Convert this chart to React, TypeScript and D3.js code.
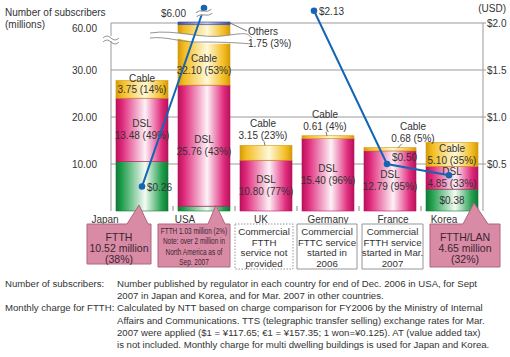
import React from "react";
import * as d3 from "d3";

// ---------- data ----------
const countries = ["Japan", "USA", "UK", "Germany", "France", "Korea"];
const ftth = [10.52, 1.03, 0, 0, 0, 4.65];
const dsl = [13.48, 25.76, 10.8, 15.4, 12.79, 4.85];
const cable = [3.75, 32.1, 3.15, 0.61, 0.68, 5.1];
const others = [0, 1.75, 0, 0, 0, 0];
const dslShare = [49, 43, 77, 96, 95, 33];
const cableShare = [14, 53, 23, 4, 5, 35];
const othersShare = [0, 3, 0, 0, 0, 0];
const ftthCharge: (number | null)[] = [0.26, 6.0, null, 2.13, 0.5, 0.38];
const leftTicks = [10, 20, 30, 60];
const rightTicks = [0.5, 1.0, 1.5, 2.0];
const calloutLines = [
  ["FTTH", "10.52 million", "(38%)"],
  ["FTTH 1.03 million (2%)", "Note: over 2 million in", "North America as of", "Sep. 2007"],
  ["Commercial", "FTTH", "service not", "provided"],
  ["Commercial", "FTTC service", "started in", "2006"],
  ["Commercial", "FTTH service", "started in Mar.", "2007"],
  ["FTTH/LAN", "4.65 million", "(32%)"],
];
const footLabels = ["Number of subscribers:", "", "Monthly charge for FTTH:", "", "", ""];
const footTexts = [
  "Number published by regulator in each country for end of Dec. 2006 in USA, for Sept",
  "2007 in Japan and Korea, and for Mar. 2007 in other countries.",
  "Calculated by NTT based on charge comparison for FY2006 by the Ministry of Internal",
  "Affairs and Communications. TTS (telegraphic transfer selling) exchange rates for Mar.",
  "2007 were applied ($1 = \u00a5117.65;  \u20ac1 = \u00a5157.35; 1 won=\u00a50.125).  AT (value added tax)",
  "is not included. Monthly charge for multi dwelling buildings is used for Japan and Korea.",
];

const keys = ["ftth", "dsl", "cable", "others"] as const;
const colors: Record<string, { edge: string; dark: string; mid: string }> = {
  ftth: { edge: "#23a04f", dark: "#0f7a35", mid: "#f3fbf4" },
  dsl: { edge: "#e02a7c", dark: "#b8125c", mid: "#fdf1f7" },
  cable: { edge: "#f3bd22", dark: "#d49a0a", mid: "#fff9da" },
  others: { edge: "#5c6cb8", dark: "#3d4b96", mid: "#c4cbee" },
};

const FONT = "Liberation Sans, Arial, Helvetica, sans-serif";
const TXT = "#333";

export default function App() {
  const left = 111, right = 483, top = 23, base = 211;
  const x = d3.scaleBand<string>().domain(countries).range([left, right]).paddingInner(10 / 62).paddingOuter(5 / 62);
  const y = d3.scaleLinear().domain([0, 30, 60]).range([base, 70, top]);
  const pxPerDollar = (base - top) / 2;
  const yP = d3.scaleLinear().domain([0, 2.13, 6]).range([base, base - 2.13 * pxPerDollar, 8]);
  const bw = x.bandwidth();
  const cx = (c: string) => (x(c) as number) + bw / 2;

  const table = countries.map((c, i) => ({ country: c, ftth: ftth[i], dsl: dsl[i], cable: cable[i], others: others[i] }));
  const series = d3.stack<any>().keys(keys as any)(table);

  const pointDx: Record<string, number> = { Germany: -14, Korea: -3, France: -3 };
  const px = (i: number) => cx(countries[i]) + (pointDx[countries[i]] || 0);
  const line = d3
    .line<number | null>()
    .defined((d) => d != null)
    .x((_, i) => px(i))
    .y((d) => yP(d as number));

  const labelsFor = (i: number) => {
    const c = countries[i];
    const out: React.ReactNode[] = [];
    const ctr = cx(c);
    const seg = (k: number) => series[k][i];
    {
      const [a, b] = seg(1);
      const m = (y(a) + y(b)) / 2;
      out.push(
        <g key="dsl">
          <text x={ctr} y={m - 3} textAnchor="middle">DSL</text>
          <text x={ctr} y={m + 9} textAnchor="middle">{`${dsl[i].toFixed(2)} (${dslShare[i]}%)`}</text>
        </g>
      );
    }
    {
      const [a, b] = seg(2);
      const ya = y(a), yb = y(b);
      const val = `${cable[i].toFixed(2)} (${cableShare[i]}%)`;
      if (c === "USA") {
        const m = (ya + 45) / 2;
        out.push(
          <g key="cab">
            <text x={ctr} y={m - 3} textAnchor="middle">Cable</text>
            <text x={ctr} y={m + 9} textAnchor="middle">{val}</text>
          </g>
        );
      } else if (ya - yb > 22) {
        const m = (ya + yb) / 2;
        out.push(
          <g key="cab">
            <text x={ctr} y={m - 2} textAnchor="middle">Cable</text>
            <text x={ctr} y={m + 10} textAnchor="middle">{val}</text>
          </g>
        );
      } else if (c === "Japan") {
        out.push(
          <g key="cab">
            <text x={ctr} y={yb + 1} textAnchor="middle">Cable</text>
            <text x={ctr} y={yb + 12} textAnchor="middle">{val}</text>
          </g>
        );
      } else {
        const dx = c === "France" ? 23 : -3;
        out.push(
          <g key="cab">
            <text x={ctr + dx} y={yb - 18} textAnchor="middle">Cable</text>
            <text x={ctr + dx} y={yb - 6} textAnchor="middle">{val}</text>
            <line x1={c === "France" ? ctr + 12 : ctr - 2} y1={yb - 4} x2={c === "France" ? ctr + 8 : ctr - 1} y2={yb} stroke="#555" strokeWidth={0.8} />
          </g>
        );
      }
    }
    if (others[i] > 0) {
      const [, b] = seg(3);
      const rx = (x(c) as number) + bw;
      out.push(
        <g key="oth">
          <line x1={rx} y1={y(b) + 1} x2={rx + 17} y2={y(b) + 9} stroke="#555" strokeWidth={0.8} />
          <text x={rx + 18} y={y(b) + 13}>Others</text>
          <text x={rx + 18} y={y(b) + 25}>{`${others[i].toFixed(2)} (${othersShare[i]}%)`}</text>
        </g>
      );
    }
    return out;
  };

  const catDx: Record<string, number> = { Japan: -37, USA: -19, UK: -5, Germany: 0, France: 3, Korea: -8 };
  const box: Record<string, { l: number; r: number; b: number; kind: string; tip?: [number, number, number, number] }> = {
    Japan: { l: -55, r: 9, b: 264, kind: "pink", tip: [-15, 6, -3, 205] },
    USA: { l: -46, r: 26, b: 267, kind: "pink", tip: [4, 21, 12, 205] },
    UK: { l: -31, r: 27, b: 269, kind: "dot" },
    Germany: { l: -31, r: 29, b: 269, kind: "solid" },
    France: { l: -28, r: 33, b: 269, kind: "solid" },
    Korea: { l: -22, r: 48, b: 267, kind: "pink", tip: [11, 36, 22, 203] },
  };
  const boxTop = 224;

  const wave = (x0: number, x1: number, y0: number, y1: number) => {
    const w = x1 - x0;
    return `M${x0},${y0} C${x0 + w * 0.25},${y0 - 4} ${x0 + w * 0.5},${(y0 + y1) / 2 + 4} ${x0 + w * 0.75},${(y0 + y1) / 2} S${x1 - w * 0.05},${y1 - 3} ${x1},${y1}`;
  };

  return (
    <svg width={510} height={357} style={{ position: "absolute", left: 0, top: 0, background: "#fff" }} fontFamily={FONT} fontSize={10} fill={TXT}>
      <defs>
        {keys.map((k) => (
          <linearGradient id={`g-${k}`} key={k} x1="0" x2="1" y1="0" y2="0">
            <stop offset="0" stopColor={colors[k].dark} />
            <stop offset="0.12" stopColor={colors[k].edge} />
            <stop offset="0.56" stopColor={colors[k].mid} />
            <stop offset="0.88" stopColor={colors[k].edge} />
            <stop offset="1" stopColor={colors[k].dark} />
          </linearGradient>
        ))}
      </defs>

      <text x={5} y={16}>Number of subscribers</text>
      <text x={5} y={28}>(millions)</text>
      <text x={506} y={12} textAnchor="end">(USD)</text>

      {leftTicks.map((t) => (
        <g key={t}>
          <line x1={left} x2={right} y1={y(t)} y2={y(t)} stroke="#9a9a9a" strokeWidth={1} />
          <text x={97} y={y(t) + 4 + (t === 60 ? 5 : 0)} textAnchor="end">{t.toFixed(2)}</text>
        </g>
      ))}
      <line x1={left} x2={left} y1={top} y2={base} stroke="#9a9a9a" />
      <line x1={right} x2={right} y1={top} y2={base} stroke="#9a9a9a" />
      {rightTicks.map((t) => (
        <g key={t}>
          <line x1={right} x2={right + 3} y1={yP(t)} y2={yP(t)} stroke="#9a9a9a" />
          <text x={right + 4} y={yP(t) + 4}>{`$${t.toFixed(1)}`}</text>
        </g>
      ))}
      <rect x={104} y={36} width={14} height={5} fill="#fff" />
      <path d="M103,38 q4,-4 8,0 t8,0" fill="none" stroke="#888" strokeWidth={0.9} />
      <path d="M103,42 q4,-4 8,0 t8,0" fill="none" stroke="#888" strokeWidth={0.9} />
      {countries.slice(1).map((c) => (
        <line key={c} x1={(x(c) as number) - 5} x2={(x(c) as number) - 5} y1={base - 5} y2={base} stroke="#888" />
      ))}

      {series.map((s) => (
        <g key={s.key}>
          {s.map((d, i) =>
            d[1] - d[0] > 0 ? (
              <rect
                key={i}
                x={x(countries[i])}
                width={bw}
                y={y(d[1])}
                height={y(d[0]) - y(d[1])}
                fill={`url(#g-${s.key})`}
                stroke={colors[s.key].dark}
                strokeWidth={0.6}
              />
            ) : null
          )}
        </g>
      ))}

      <path d={`${wave(150, 252, 33, 38)} L252,44 C230,42 215,46 195,42 S165,36 150,38 Z`} fill="#fff" stroke="none" />
      <path d={wave(150, 252, 33, 38)} fill="none" stroke="#888" strokeWidth={0.9} />
      <path d="M150,38 C165,36 180,42 195,42 S230,42 252,44" fill="none" stroke="#888" strokeWidth={0.9} />

      {countries.map((_, i) => (
        <g key={i}>{labelsFor(i)}</g>
      ))}

      <path d={line(ftthCharge) || ""} fill="none" stroke="#1565b4" strokeWidth={2} />
      {ftthCharge.map((v, i) => (v == null ? null : <circle key={i} cx={px(i)} cy={yP(v)} r={3.3} fill="#1565b4" />))}
      <g transform={`translate(${(px(0) + px(1)) / 2 + 31},13) rotate(-12)`}>
        <rect x={-7} y={-2} width={14} height={3.5} fill="#fff" />
        <path d="M-8,-2 q4,-2 8,0 t8,0" fill="none" stroke="#888" strokeWidth={0.9} />
        <path d="M-8,2 q4,-2 8,0 t8,0" fill="none" stroke="#888" strokeWidth={0.9} />
      </g>
      {ftthCharge.map((v, i) => {
        if (v == null) return null;
        const c = countries[i];
        const X = px(i), Y = yP(v);
        const s = `$${v.toFixed(2)}`;
        if (c === "USA") return <text key={i} x={X - 18} y={Y + 9} textAnchor="end">{s}</text>;
        if (c === "Korea") {
          const [a, b] = series[0][i];
          return <text key={i} x={cx(c)} y={(y(a) + y(b)) / 2 + 4} textAnchor="middle">{s}</text>;
        }
        if (c === "France") return <text key={i} x={X + 5} y={Y - 3}>{s}</text>;
        return <text key={i} x={X + 5} y={Y + 4}>{s}</text>;
      })}

      {countries.map((c) => (
        <text key={c} x={cx(c) + catDx[c]} y={223} textAnchor="middle">{c}</text>
      ))}

      {countries.map((c, i) => {
        const b = box[c];
        const ctr = cx(c);
        const l = ctr + b.l, r = ctr + b.r;
        const mid = (l + r) / 2;
        const lines = calloutLines[i];
        const pink = b.kind === "pink";
        const usa = c === "USA";
        const lh = usa ? 10.5 : pink ? 11 : 10.6;
        const y0 = usa ? 233.5 : pink ? 241 : 235;
        let shape: string;
        if (b.tip) {
          const [t0, t1, tx, ty] = b.tip;
          shape = `M${l},${boxTop} L${ctr + t0},${boxTop} L${ctr + tx},${ty} L${ctr + t1},${boxTop} L${r},${boxTop} L${r},${b.b} L${l},${b.b} Z`;
        } else {
          shape = `M${l},${boxTop} L${r},${boxTop} L${r},${b.b} L${l},${b.b} Z`;
        }
        return (
          <g key={c}>
            <path
              d={shape}
              fill={pink ? "#d98ba6" : "#fff"}
              stroke={pink ? "#b0647f" : "#8a8a8a"}
              strokeWidth={pink ? 1 : 0.9}
              strokeDasharray={b.kind === "dot" ? "1.5,1.5" : undefined}
            />
            {lines.map((t, j) =>
              usa ? (
                <text
                  key={j}
                  transform={`translate(${mid},${y0 + j * lh}) scale(0.72,1)`}
                  textAnchor="middle"
                  fontSize={9}
                  fill="#3a2530"
                >
                  {t}
                </text>
              ) : (
                <text key={j} x={mid} y={y0 + j * lh} textAnchor="middle" fontSize={pink ? 10.5 : 9.7} fill={pink ? "#3a2530" : TXT}>
                  {t}
                </text>
              )
            )}
          </g>
        );
      })}

      {footTexts.map((t, j) => (
        <g key={j} fontSize={9.6}>
          {footLabels[j] && <text x={5} y={287 + j * 12.2}>{footLabels[j]}</text>}
          <text x={117} y={287 + j * 12.2}>{t}</text>
        </g>
      ))}
    </svg>
  );
}
